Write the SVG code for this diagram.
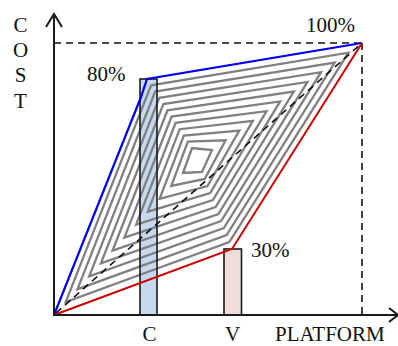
<svg xmlns="http://www.w3.org/2000/svg" width="398" height="346" viewBox="0 0 398 346">
<style>
text{font-family:"Liberation Serif","Times New Roman",serif;fill:#111;font-size:21px}
.ax{stroke:#1a1a1a;stroke-width:2;fill:none}
.dash{stroke:#111;stroke-width:1.6;stroke-dasharray:7,5;fill:none}
.g{stroke:#808080;stroke-width:2.3;fill:none;stroke-linejoin:miter}
.bar{stroke:#1a1a1a;stroke-width:1.6}
</style>
<rect width="398" height="346" fill="#fff"/>
<g id="bar-c"><rect x="140" y="79" width="17" height="236" fill="#c6d9ef" stroke="none"/></g>
<g id="bar-v"><rect x="224" y="249" width="17.5" height="66" fill="#f1dcdc" stroke="none"/></g>
<g id="contours">
<polygon class="g" points="183,173 192,148 212,150 202,172"/>
<polygon class="g" points="171.3,185.9 187.9,141.7 225.6,140.3 204.7,179"/>
<polygon class="g" points="159.6,198.8 183.8,135.5 239.3,130.6 207.5,186"/>
<polygon class="g" points="147.8,211.7 179.7,129.2 252.9,120.8 210.2,193"/>
<polygon class="g" points="136.1,224.6 175.6,122.9 266.6,111.1 212.9,200"/>
<polygon class="g" points="124.4,237.6 171.6,116.6 280.2,101.4 215.6,207"/>
<polygon class="g" points="112.6,250.5 167.5,110.4 293.8,91.6 218.4,214"/>
<polygon class="g" points="100.9,263.4 163.4,104.1 307.5,81.9 221.1,221"/>
<polygon class="g" points="89.2,276.3 159.3,97.8 321.1,72.2 223.8,228"/>
<polygon class="g" points="77.5,289.2 155.2,91.6 334.7,62.5 226.6,235"/>
<polygon class="g" points="65.7,302.1 151.1,85.3 348.4,52.7 229.3,242"/>
</g>
<g id="bar-outlines" fill="none">
<rect class="bar" x="140" y="79" width="17" height="236"/>
<rect class="bar" x="224" y="249" width="17.5" height="66"/>
</g>
<g id="connectors">
<line class="dash" x1="54" y1="43" x2="362" y2="43"/>
<line class="dash" x1="362" y1="43" x2="362" y2="315"/>
<line class="dash" x1="56" y1="313" x2="362" y2="43"/>
<polyline points="54,315 141,97 147,79 362,43" fill="none" stroke="#0000ee" stroke-width="2.2"/>
<polyline points="54,315 232,249 362,43" fill="none" stroke="#cc0000" stroke-width="2"/>
<line class="ax" x1="54" y1="316" x2="54" y2="14"/>
<polyline class="ax" points="46,27 54,14 62,27"/>
<line class="ax" x1="53" y1="315" x2="397" y2="315"/>
<polyline class="ax" points="389,308 398,315 389,322"/>
</g>
<g id="labels">
<text x="20.5" y="32" text-anchor="middle" font-size="20">C</text>
<text x="20.5" y="57" text-anchor="middle" font-size="20">O</text>
<text x="20.5" y="82" text-anchor="middle" font-size="20">S</text>
<text x="20.5" y="108" text-anchor="middle" font-size="20">T</text>
<text x="87" y="81">80%</text>
<text x="306" y="32">100%</text>
<text x="251" y="257">30%</text>
<text x="149.5" y="341" text-anchor="middle">C</text>
<text x="232.5" y="341" text-anchor="middle">V</text>
<text x="275" y="341">PLATFORM</text>
</g>
</svg>
